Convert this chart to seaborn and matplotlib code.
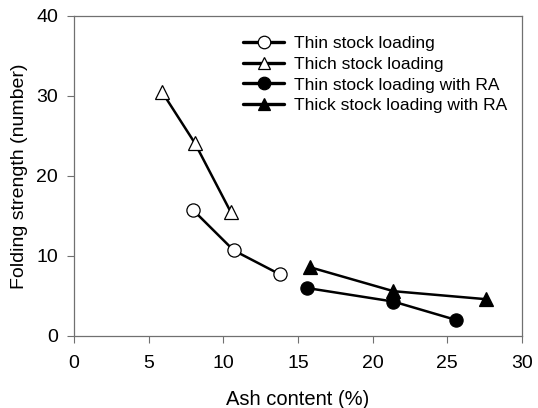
import matplotlib
matplotlib.use("Agg")
import matplotlib.pyplot as plt
import seaborn as sns
import pandas as pd

# Folding strength vs. ash content for four loading methods
thin_x = [8.0, 10.7, 13.8]
thin_y = [15.7, 10.7, 7.7]
thick_x = [5.9, 8.1, 10.5]
thick_y = [30.5, 24.1, 15.5]
thin_ra_x = [15.6, 21.4, 25.6]
thin_ra_y = [6.0, 4.3, 2.0]
thick_ra_x = [15.8, 21.4, 27.6]
thick_ra_y = [8.6, 5.6, 4.6]

labels = ["Thin stock loading", "Thich stock loading",
          "Thin stock loading with RA", "Thick stock loading with RA"]

sns.set_theme(style="white", rc={"text.color": "black",
                                 "axes.labelcolor": "black",
                                 "xtick.color": "black",
                                 "ytick.color": "black"})
plt.rcParams["font.family"] = ["Liberation Sans", "DejaVu Sans"]

fig = plt.figure(figsize=(5.38, 4.08), dpi=100)
ax = fig.add_axes([0.1375, 0.1765, 0.8325, 0.7843])

series = [
    (thin_x, thin_y, "o", "white", 9.5),
    (thick_x, thick_y, "^", "white", 10),
    (thin_ra_x, thin_ra_y, "o", "black", 9.5),
    (thick_ra_x, thick_ra_y, "^", "black", 10),
]
for (xs, ys, mk, fc, ms), lab in zip(series, labels):
    df = pd.DataFrame({"x": xs, "y": ys})
    sns.lineplot(data=df, x="x", y="y", ax=ax, color="black", lw=1.8,
                 marker=mk, markersize=ms, markerfacecolor=fc,
                 markeredgecolor="black", markeredgewidth=0.9,
                 label=lab, sort=False, estimator=None)

ax.set_xlim(0, 30)
ax.set_ylim(0, 40)
ax.set_xticks(range(0, 31, 5))
ax.set_yticks(range(0, 41, 10))
ax.set_xlabel("Ash content (%)", fontsize=14.5, labelpad=13)
ax.set_ylabel("Folding strength (number)", fontsize=14, labelpad=6)
ax.tick_params(axis="both", labelsize=14, direction="out", length=5,
               width=0.8, color="#707070", bottom=True, left=True)
ax.tick_params(axis="x", pad=8.5)
ax.tick_params(axis="y", pad=6.5)
for s in ax.spines.values():
    s.set_color("#707070")
    s.set_linewidth(0.9)

leg = ax.legend(loc="upper left", bbox_to_anchor=(0.377, 0.9375), frameon=False,
                fontsize=12.5, handlelength=2.4, handletextpad=0.55,
                labelspacing=0.32, borderaxespad=0, borderpad=0)
for line in leg.get_lines():
    line.set_linewidth(2.4)
    line.set_markersize(9)

fig.savefig("out.png", dpi=100)
